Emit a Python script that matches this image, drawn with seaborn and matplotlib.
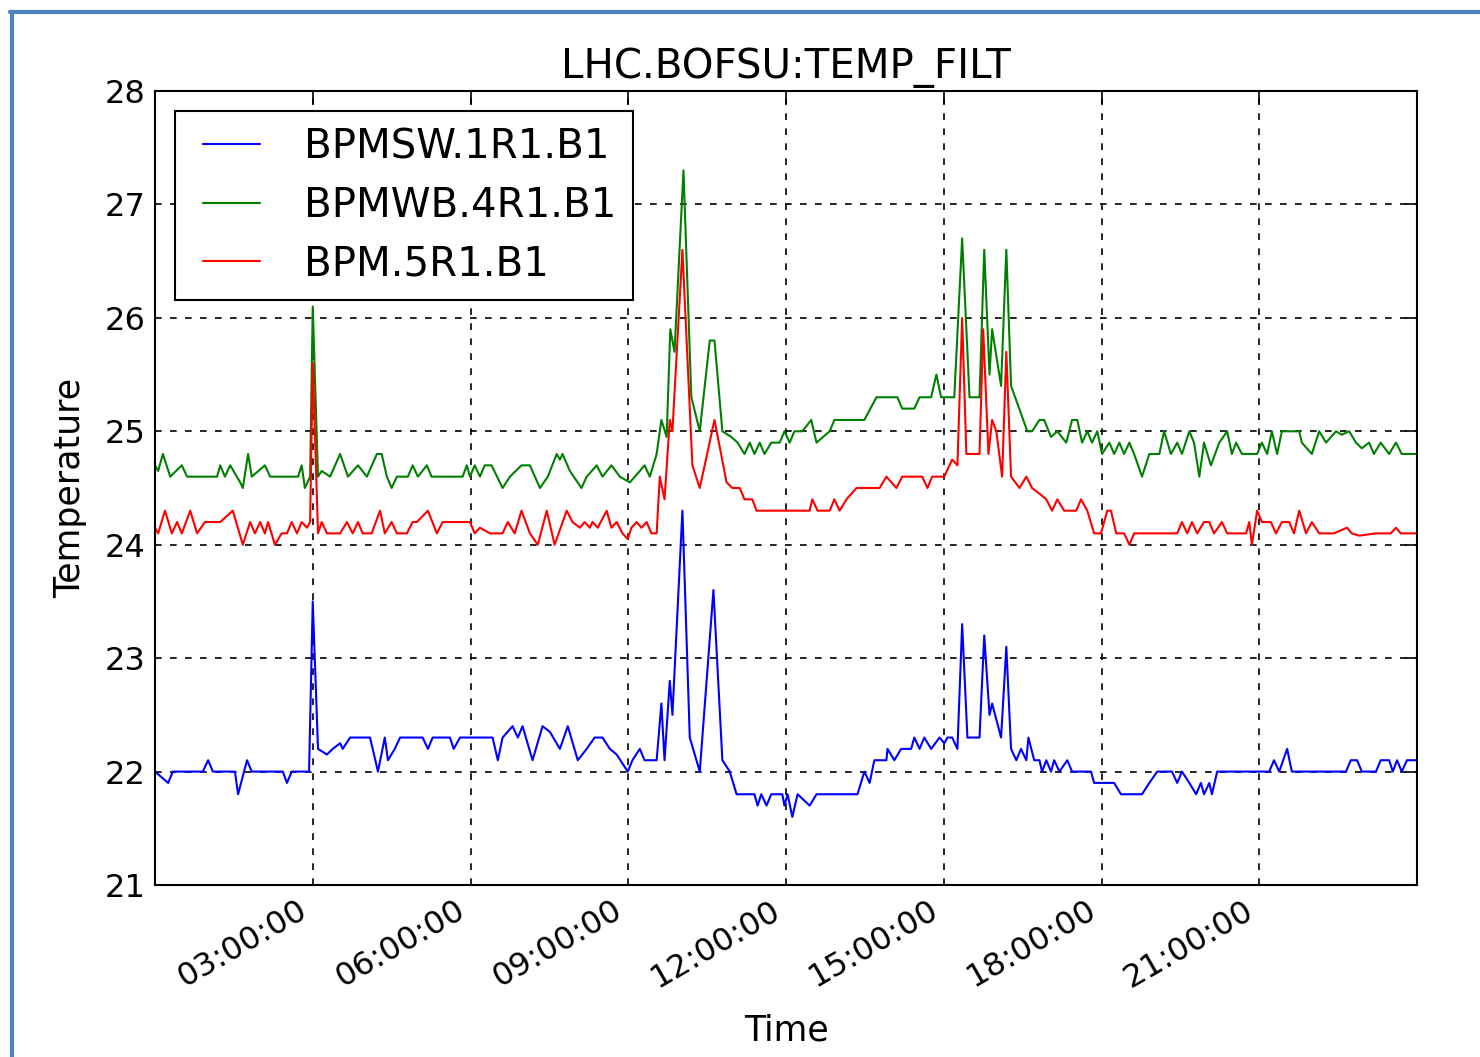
import numpy as np
import pandas as pd
import seaborn as sns
import matplotlib
matplotlib.use("Agg")
import matplotlib.pyplot as plt
import matplotlib.dates as mdates
from matplotlib.lines import Line2D

# time of day (hours) and temperature, vertex by vertex
t_sw = [0.00, 0.25, 0.34, 0.91, 1.01, 1.10, 1.52, 1.58, 1.75, 1.84, 2.43, 2.51, 2.60, 2.93,
        3.00, 3.10, 3.27, 3.38, 3.52, 3.57, 3.71, 4.09, 4.24, 4.37, 4.43, 4.56, 4.66, 5.09,
        5.19, 5.28, 5.61, 5.68, 5.80, 6.42, 6.52, 6.61, 6.80, 6.90, 6.99, 7.18, 7.37, 7.51,
        7.70, 7.85, 8.04, 8.21, 8.36, 8.51, 8.65, 8.78, 8.99, 9.08, 9.22, 9.31, 9.54, 9.63,
        9.69, 9.79, 9.84, 10.03, 10.17, 10.36, 10.62, 10.79, 10.93, 11.06, 11.40, 11.46, 11.53,
        11.63, 11.72, 11.93, 11.97, 12.03, 12.12, 12.22, 12.45, 12.58, 13.36, 13.49, 13.59,
        13.68, 13.91, 13.93, 14.06, 14.19, 14.38, 14.44, 14.54, 14.63, 14.76, 14.92, 15.01,
        15.07, 15.16, 15.26, 15.35, 15.45, 15.68, 15.77, 15.87, 15.92, 16.09, 16.19, 16.28,
        16.38, 16.47, 16.57, 16.61, 16.72, 16.82, 16.87, 16.95, 17.04, 17.10, 17.20, 17.35,
        17.44, 17.80, 17.86, 18.24, 18.37, 18.77, 18.91, 19.06, 19.34, 19.44, 19.53, 19.67,
        19.80, 19.89, 19.95, 20.05, 20.10, 20.20, 21.19, 21.28, 21.38, 21.53, 21.62, 22.65,
        22.74, 22.86, 22.95, 23.22, 23.31, 23.47, 23.54, 23.62, 23.71, 23.81, 23.98]
v_sw = [22.0, 21.9, 22.0, 22.0, 22.1, 22.0, 22.0, 21.8, 22.1, 22.0, 22.0, 21.9, 22.0, 22.0,
        23.5, 22.2, 22.15, 22.2, 22.25, 22.2, 22.3, 22.3, 22.0, 22.3, 22.1, 22.2, 22.3, 22.3,
        22.2, 22.3, 22.3, 22.2, 22.3, 22.3, 22.1, 22.3, 22.4, 22.3, 22.4, 22.1, 22.4, 22.35,
        22.2, 22.4, 22.1, 22.2, 22.3, 22.3, 22.2, 22.15, 22.0, 22.1, 22.2, 22.1, 22.1, 22.6,
        22.1, 22.8, 22.5, 24.3, 22.3, 22.0, 23.6, 22.1, 22.0, 21.8, 21.8, 21.7, 21.8,
        21.7, 21.8, 21.8, 21.7, 21.8, 21.6, 21.8, 21.7, 21.8, 21.8, 22.0, 21.9,
        22.1, 22.1, 22.2, 22.1, 22.2, 22.2, 22.3, 22.2, 22.3, 22.2, 22.3, 22.25,
        22.3, 22.3, 22.2, 23.3, 22.3, 22.3, 23.2, 22.5, 22.6, 22.3, 23.1, 22.2,
        22.1, 22.2, 22.1, 22.3, 22.1, 22.1, 22.0, 22.1, 22.0, 22.1, 22.0, 22.1,
        22.0, 22.0, 21.9, 21.9, 21.8, 21.8, 21.9, 22.0, 22.0, 21.9, 22.0, 21.9,
        21.8, 21.9, 21.8, 21.9, 21.8, 22.0, 22.0, 22.1, 22.0, 22.2, 22.0, 22.0,
        22.1, 22.1, 22.0, 22.0, 22.1, 22.1, 22.0, 22.1, 22.0, 22.1, 22.1]

t_wb = [0.00, 0.06, 0.15, 0.29, 0.51, 0.61, 1.18, 1.24, 1.33, 1.43, 1.62, 1.67, 1.77, 1.84,
        2.09, 2.19, 2.72, 2.79, 2.85, 2.95, 3.00, 3.10, 3.17, 3.33, 3.52, 3.67, 3.86, 4.03,
        4.22, 4.31, 4.41, 4.50, 4.60, 4.81, 4.90, 5.00, 5.17, 5.26, 5.85, 5.93, 5.99, 6.08,
        6.18, 6.27, 6.40, 6.61, 6.75, 6.97, 7.13, 7.32, 7.47, 7.64, 7.70, 7.75, 7.89, 8.11,
        8.21, 8.40, 8.51, 8.68, 8.84, 9.03, 9.22, 9.31, 9.41, 9.54, 9.63, 9.73, 9.80, 9.88,
        10.05, 10.20, 10.36, 10.55, 10.64, 10.79, 10.96, 11.08, 11.21, 11.31, 11.40, 11.50,
        11.59, 11.72, 11.88, 11.97, 12.07, 12.16, 12.31, 12.48, 12.58, 12.83, 12.92, 13.49,
        13.72, 14.12, 14.21, 14.44, 14.54, 14.76, 14.86, 14.95, 15.20, 15.35, 15.49, 15.68,
        15.77, 15.87, 15.92, 16.09, 16.19, 16.28, 16.59, 16.68, 16.82, 16.91, 17.04, 17.16,
        17.33, 17.44, 17.54, 17.63, 17.73, 17.82, 17.92, 18.01, 18.15, 18.24, 18.34, 18.43,
        18.53, 18.62, 18.77, 18.91, 19.10, 19.19, 19.32, 19.44, 19.53, 19.67, 19.76, 19.86,
        19.95, 20.08, 20.24, 20.39, 20.48, 20.56, 20.67, 20.96, 21.05, 21.15, 21.24, 21.34,
        21.43, 21.76, 21.81, 22.00, 22.14, 22.27, 22.46, 22.57, 22.71, 22.84, 22.95, 23.09,
        23.18, 23.31, 23.47, 23.60, 23.71, 23.98]
v_wb = [24.7, 24.65, 24.8, 24.6, 24.7, 24.6, 24.6, 24.7, 24.6, 24.7, 24.55, 24.5, 24.8, 24.6,
        24.7, 24.6, 24.6, 24.7, 24.5, 24.6, 26.1, 24.6, 24.65, 24.6, 24.8, 24.6, 24.7, 24.6,
        24.8, 24.8, 24.6, 24.5, 24.6, 24.6, 24.7, 24.6, 24.7, 24.6, 24.6, 24.7, 24.6, 24.7,
        24.6, 24.7, 24.7, 24.5, 24.6, 24.7, 24.7, 24.5, 24.6, 24.8, 24.75, 24.8, 24.65, 24.5,
        24.6, 24.7, 24.6, 24.7, 24.6, 24.55, 24.65, 24.7, 24.6, 24.8, 25.1, 24.95, 25.9, 25.7,
        27.3, 25.3, 25.0, 25.8, 25.8, 25.0, 24.95, 24.9, 24.8, 24.9, 24.8, 24.9,
        24.8, 24.9, 24.9, 25.0, 24.9, 25.0, 25.0, 25.1, 24.9, 25.0, 25.1, 25.1,
        25.3, 25.3, 25.2, 25.2, 25.3, 25.3, 25.5, 25.3, 25.3, 26.7, 25.3, 25.3,
        26.6, 25.5, 25.9, 25.4, 26.6, 25.4, 25.0, 25.0, 25.1, 25.1, 24.95, 25.0,
        24.9, 25.1, 25.1, 24.9, 25.0, 24.9, 25.0, 24.8, 24.9, 24.8, 24.9, 24.8,
        24.9, 24.8, 24.6, 24.8, 24.8, 25.0, 24.8, 24.9, 24.8, 25.0, 24.9, 24.6,
        24.9, 24.7, 24.9, 25.0, 24.8, 24.9, 24.8, 24.8, 24.9, 24.8, 25.0, 24.8,
        25.0, 25.0, 24.9, 24.8, 25.0, 24.9, 25.0, 24.97, 25.0, 24.9, 24.85, 24.9,
        24.8, 24.9, 24.8, 24.9, 24.8, 24.8]

t_bpm = [0.00, 0.06, 0.19, 0.32, 0.42, 0.51, 0.67, 0.80, 0.95, 1.24, 1.48, 1.67, 1.81, 1.90,
         2.00, 2.09, 2.15, 2.28, 2.41, 2.51, 2.60, 2.70, 2.79, 2.89, 2.95, 3.00, 3.10, 3.17,
         3.27, 3.52, 3.65, 3.76, 3.86, 3.95, 4.12, 4.28, 4.37, 4.50, 4.60, 4.79, 4.90, 4.98,
         5.19, 5.36, 5.47, 5.85, 5.99, 6.08, 6.18, 6.37, 6.61, 6.71, 6.84, 6.97, 7.13, 7.28,
         7.45, 7.60, 7.83, 7.94, 8.08, 8.17, 8.27, 8.32, 8.42, 8.59, 8.68, 8.78, 8.89, 8.99,
         9.06, 9.16, 9.25, 9.35, 9.44, 9.54, 9.60, 9.69, 9.79, 9.84, 10.03, 10.22, 10.36,
         10.64, 10.87, 10.98, 11.12, 11.21, 11.36, 11.44, 12.45, 12.50, 12.60, 12.83, 12.92,
         13.02, 13.15, 13.34, 13.78, 13.91, 14.10, 14.21, 14.59, 14.69, 14.78, 15.01, 15.16,
         15.26, 15.35, 15.43, 15.68, 15.75, 15.85, 15.92, 16.00, 16.11, 16.19, 16.28, 16.44,
         16.57, 16.68, 16.82, 16.95, 17.06, 17.16, 17.29, 17.52, 17.61, 17.73, 17.86, 17.99,
         18.11, 18.18, 18.28, 18.43, 18.53, 18.62, 19.44, 19.53, 19.63, 19.72, 19.82, 19.95,
         20.05, 20.14, 20.29, 20.39, 20.75, 20.81, 20.86, 20.96, 21.05, 21.22, 21.32, 21.43,
         21.57, 21.66, 21.76, 21.89, 22.00, 22.14, 22.42, 22.67, 22.76, 22.90, 23.22, 23.33,
         23.50, 23.60, 23.69, 23.98]
v_bpm = [24.15, 24.1, 24.3, 24.1, 24.2, 24.1, 24.3, 24.1, 24.2, 24.2, 24.3, 24.0, 24.2, 24.1,
         24.2, 24.1, 24.2, 24.0, 24.1, 24.1, 24.2, 24.1, 24.2, 24.15, 24.2, 25.6, 24.1, 24.2,
         24.1, 24.1, 24.2, 24.1, 24.2, 24.1, 24.1, 24.3, 24.1, 24.2, 24.1, 24.1, 24.2, 24.2,
         24.3, 24.1, 24.2, 24.2, 24.2, 24.1, 24.15, 24.1, 24.1, 24.2, 24.1, 24.3, 24.1, 24.0,
         24.3, 24.0, 24.3, 24.2, 24.15, 24.2, 24.15, 24.2, 24.15, 24.3, 24.15, 24.2, 24.1, 24.05,
         24.15, 24.2, 24.15, 24.2, 24.1, 24.1, 24.6, 24.4, 25.1, 25.0, 26.6, 24.7, 24.5,
         25.1, 24.55, 24.5, 24.5, 24.4, 24.4, 24.3, 24.3, 24.4, 24.3, 24.3, 24.4,
         24.3, 24.4, 24.5, 24.5, 24.6, 24.5, 24.6, 24.6, 24.5, 24.6, 24.6, 24.75,
         24.7, 26.0, 24.8, 24.8, 25.9, 24.8, 25.1, 25.0, 24.6, 25.7, 24.6, 24.5,
         24.6, 24.5, 24.45, 24.4, 24.3, 24.4, 24.3, 24.3, 24.4, 24.3, 24.1, 24.1,
         24.3, 24.3, 24.1, 24.1, 24.0, 24.1, 24.1, 24.2, 24.1, 24.2, 24.1, 24.2,
         24.2, 24.1, 24.2, 24.1, 24.1, 24.2, 24.0, 24.3, 24.2, 24.2, 24.1, 24.2,
         24.2, 24.1, 24.3, 24.1, 24.2, 24.1, 24.1, 24.15, 24.1, 24.08, 24.1, 24.1,
         24.1, 24.15, 24.1, 24.1]

names = ["BPMSW.1R1.B1", "BPMWB.4R1.B1", "BPM.5R1.B1"]
colors = ["#0000ff", "#008000", "#ff0000"]
y_ticks = [21, 22, 23, 24, 25, 26, 27, 28]

day = pd.Timestamp("2016-01-01")


def to_frame(hours, vals, name):
    return pd.DataFrame({"Time": day + pd.to_timedelta(np.array(hours), unit="h"),
                         "Temperature": vals, "sensor": name})


df = pd.concat([to_frame(t_sw, v_sw, names[0]),
                to_frame(t_wb, v_wb, names[1]),
                to_frame(t_bpm, v_bpm, names[2])])

sns.set_style("white")
plt.rcParams["font.family"] = ["DejaVu Sans"]
plt.rcParams["text.color"] = "black"
plt.rcParams["axes.labelcolor"] = "black"

fig = plt.figure(figsize=(14.8, 10.57), dpi=100)
ax = fig.add_axes([155 / 1480, 1 - 885 / 1057, (1417 - 155) / 1480, (885 - 91) / 1057])

for name, col in zip(names, colors):
    sns.lineplot(data=df[df["sensor"] == name], x="Time", y="Temperature", color=col,
                 linewidth=1.5, label=name, estimator=None, sort=False, ax=ax)

ax.set_xlim(day, day + pd.Timedelta(hours=24))
ax.set_ylim(21, 28)
ax.set_yticks(y_ticks)
ax.xaxis.set_major_locator(mdates.HourLocator(byhour=range(3, 24, 3)))
ax.xaxis.set_major_formatter(mdates.DateFormatter("%H:%M:%S"))
for lab in ax.get_xticklabels():
    lab.set_rotation(30)
    lab.set_ha("right")

ax.grid(True, color="black", linestyle=(0, (4, 5)), linewidth=1.2)
ax.tick_params(direction="in", top=True, right=True, length=9, width=1.2,
               labelsize=23, pad=7, colors="black")
for sp in ax.spines.values():
    sp.set_color("black")
    sp.set_linewidth(1.5)

ax.set_title("LHC.BOFSU:TEMP_FILT", fontsize=29, pad=9)
ax.set_xlabel("Time", fontsize=25, labelpad=14)
ax.set_ylabel("Temperature", fontsize=25, labelpad=12)

leg = ax.legend(loc="upper left", fontsize=29, numpoints=2, handlelength=2.0,
                handletextpad=0.8, labelspacing=0.46, borderpad=0.4, borderaxespad=0.5,
                fancybox=False, framealpha=1, edgecolor="black")
leg.get_frame().set_linewidth(1.5)

# blue frame around the screenshot
fig.add_artist(Line2D([12 / 1480, 12 / 1480], [0, 1 - 12 / 1057], color="#4f81bd", linewidth=3))
fig.add_artist(Line2D([10 / 1480, 1], [1 - 12 / 1057, 1 - 12 / 1057], color="#4f81bd", linewidth=3))

fig.savefig("out.png", dpi=100)
